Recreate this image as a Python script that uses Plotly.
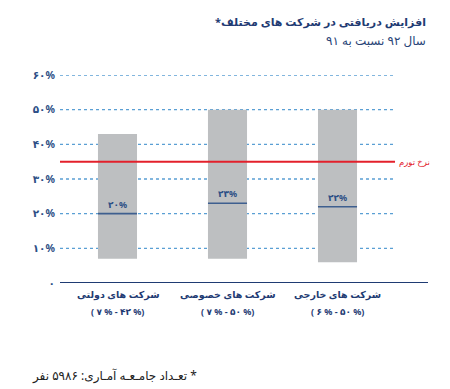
import plotly.graph_objects as go

categories = ["شرکت های دولتی", "شرکت های خصوصی", "شرکت های خارجی"]
range_labels = ["( ۷ % - ۴۲ %)", "( ۷ % - ۵۰ %)", "( ۶ % - ۵۰ %)"]
low_values = [7, 7, 6]
high_values = [43, 50, 50]
median_values = [20, 23, 22]
median_labels = ["۲۰%", "۲۳%", "۲۲%"]
inflation_rate = 35
inflation_label = "نرخ تورم"
y_ticks = [0, 10, 20, 30, 40, 50, 60]
y_tick_labels = ["۰", "۱۰%", "۲۰%", "۳۰%", "۴۰%", "۵۰%", "۶۰%"]
title = "افزایش دریافتی در شرکت های مختلف*"
subtitle = "سال ۹۲ نسبت به ۹۱"
footnote = "* تعـداد جامـعـه آمـاری: ۵۹۸۶ نفر"

RLE, LRE, PDF = "\u202B", "\u202A", "\u202C"


def rtl(s):
    return RLE + s + PDF


def ltr(s):
    return LRE + s + PDF


FONT = "Noto Sans, DejaVu Sans, sans-serif"
NAVY = "#1f3b73"
BAR_W = 0.355
X0 = -0.5227
X_GRID_END = 2.523
X1 = 2.8227

# page body has an 8px margin: lay the figure out in page pixels minus 8
OFF = 8
W, H = 450 - OFF, 389 - OFF
L, T = 60 - OFF, 75 - OFF
R = W - (428 - OFF)
B = H - (283 - OFF)
PW, PH = W - L - R, H - T - B

x = list(range(len(categories)))

fig = go.Figure()
fig.add_trace(go.Bar(
    x=x,
    y=[h - l for h, l in zip(high_values, low_values)],
    base=low_values,
    width=BAR_W,
    marker=dict(color="#bdbfc1", line=dict(width=0)),
    hoverinfo="skip",
))

shapes = []
for v in y_ticks[1:]:
    shapes.append(dict(type="line", xref="x", yref="y", x0=X0, x1=X_GRID_END, y0=v, y1=v,
                       line=dict(color="#5a9fd4", width=1.3, dash="dot"), layer="below"))
shapes.append(dict(type="line", xref="x", yref="y", x0=X0, x1=X1, y0=0, y1=0,
                   line=dict(color=NAVY, width=2.2)))
shapes.append(dict(type="line", xref="x", yref="y", x0=X0, x1=X_GRID_END, y0=inflation_rate, y1=inflation_rate,
                   line=dict(color="#e3202b", width=2), layer="above"))
for xi, m in zip(x, median_values):
    shapes.append(dict(type="line", xref="x", yref="y", x0=xi - BAR_W / 2, x1=xi + BAR_W / 2, y0=m, y1=m,
                       line=dict(color="#3e5f8f", width=1.6), layer="above"))

annotations = []
for xi, m, ml in zip(x, median_values, median_labels):
    annotations.append(dict(x=xi, y=m, xref="x", yref="y", text="<b>" + ltr(ml) + "</b>", showarrow=False,
                            yanchor="bottom", yshift=1, font=dict(family=FONT, size=9, color="#2d4f86")))
for xi, c, r in zip(x, categories, range_labels):
    annotations.append(dict(x=xi, y=0, xref="x", yref="y", text="<b>" + rtl(c) + "</b>", showarrow=False,
                            yanchor="middle", yshift=-11, font=dict(family=FONT, size=9.5, color=NAVY)))
    annotations.append(dict(x=xi, y=0, xref="x", yref="y", text="<b>" + ltr(r) + "</b>", showarrow=False,
                            yanchor="middle", yshift=-28, font=dict(family=FONT, size=9, color=NAVY)))
annotations.append(dict(x=X_GRID_END, y=inflation_rate, xref="x", yref="y", text=rtl(inflation_label),
                        showarrow=False, xanchor="left", yanchor="middle", xshift=2,
                        font=dict(family=FONT, size=8.5, color="#e3202b")))


def page_to_paper(px, py):
    return (px - OFF - L) / PW, (H - (py - OFF) - B) / PH


tx, ty = page_to_paper(428, 21)
annotations.append(dict(x=tx, y=ty, xref="paper", yref="paper", text="<b>" + rtl(title) + "</b>",
                        showarrow=False, xanchor="right", yanchor="middle",
                        font=dict(family=FONT, size=11, color=NAVY)))
sx, sy = page_to_paper(428, 41)
annotations.append(dict(x=sx, y=sy, xref="paper", yref="paper", text=rtl(subtitle),
                        showarrow=False, xanchor="right", yanchor="middle",
                        font=dict(family=FONT, size=12, color="#2a4577")))
fx, fy = page_to_paper(30, 375)
annotations.append(dict(x=fx, y=fy, xref="paper", yref="paper", text=rtl(footnote),
                        showarrow=False, xanchor="left", yanchor="middle",
                        font=dict(family=FONT, size=12, color="#222222")))

fig.update_layout(
    width=W, height=H,
    margin=dict(l=L, r=R, t=T, b=B),
    paper_bgcolor="white", plot_bgcolor="white",
    showlegend=False,
    shapes=shapes,
    annotations=annotations,
    xaxis=dict(range=[X0, X1], showgrid=False, zeroline=False, showticklabels=False, showline=False),
    yaxis=dict(range=[0, 60], tickvals=y_ticks, ticktext=["<b>" + t + "</b>" for t in y_tick_labels],
               showgrid=False, zeroline=False,
               showline=False, ticks="", ticklabelstandoff=4,
               tickfont=dict(family=FONT, size=10.5, color="#2d4f86")),
    font=dict(family=FONT),
)

fig.write_html("out.html")
